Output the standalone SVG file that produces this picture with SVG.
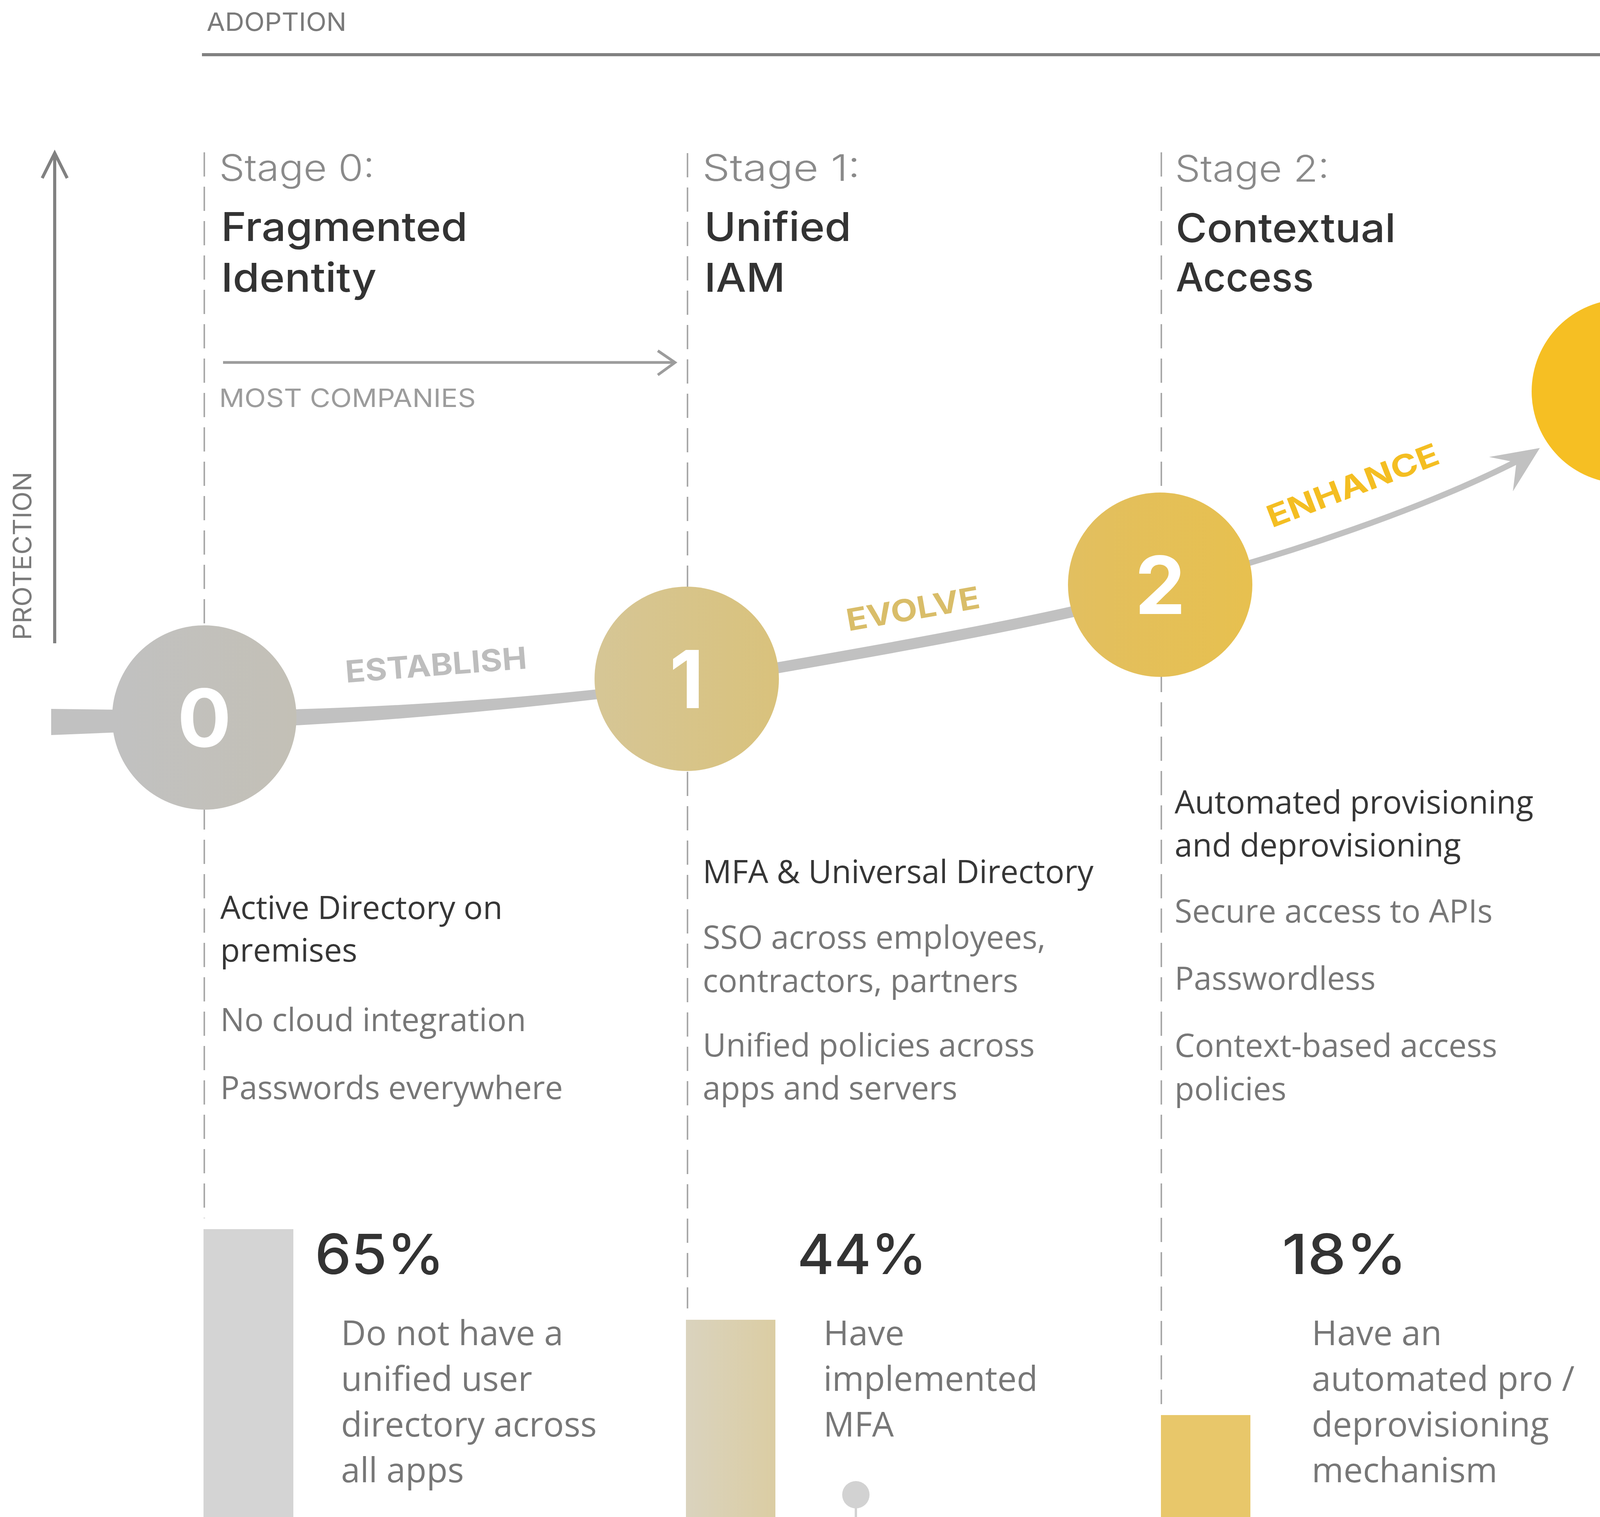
<svg xmlns="http://www.w3.org/2000/svg" width="5294" height="3884" viewBox="0 0 5294 3884">
<defs>
<style>
.axis{stroke:#818181;stroke-width:8;fill:none;stroke-linecap:butt}
.axhead{stroke:#818181;stroke-width:8;fill:none;stroke-linejoin:miter}
.axlbl{font-family:Inter,"Liberation Sans",sans-serif;font-size:64px;fill:#7a7a7a}
.most{font-family:Inter,"Liberation Sans",sans-serif;font-size:64px;fill:#9c9c9c}
.mostarr{stroke:#9c9c9c;stroke-width:7;fill:none}
.dash{stroke:#a9a9a9;stroke-width:4;stroke-dasharray:62 26;fill:none}
.stage{font-family:Inter,"Liberation Sans",sans-serif;font-weight:300;font-size:94px;fill:#8a8a8a}
.title{font-family:Inter,"Liberation Sans",sans-serif;font-weight:500;font-size:102px;fill:#333333}
.num{font-family:Inter,"Liberation Sans",sans-serif;font-weight:700;font-size:205px;fill:#ffffff;text-anchor:middle}
.body{font-family:"Open Sans","Noto Sans","Liberation Sans",sans-serif;font-size:82px;fill:#777777}
.dark{fill:#363636}
.pct{font-family:Inter,"Liberation Sans",sans-serif;font-weight:500;font-size:142px;fill:#333333}
.desc{font-family:"Open Sans","Noto Sans","Liberation Sans",sans-serif;font-size:88px;fill:#777777}
.plbl{font-family:Inter,"Liberation Sans",sans-serif;font-weight:700;font-size:78px}
.curve{fill:none;stroke:#c1c1c1}
</style>
<linearGradient id="g0" x1="0" y1="0" x2="1" y2="0"><stop offset="0" stop-color="#c1c1c1"/><stop offset="1" stop-color="#c3c0b6"/></linearGradient>
<linearGradient id="g1" x1="0" y1="0" x2="1" y2="0"><stop offset="0" stop-color="#d6c696"/><stop offset="1" stop-color="#d9c27c"/></linearGradient>
<linearGradient id="g2" x1="0" y1="0" x2="1" y2="0"><stop offset="0" stop-color="#e2bf60"/><stop offset="1" stop-color="#e7c04f"/></linearGradient>
<linearGradient id="b1" x1="0" y1="0" x2="1" y2="0"><stop offset="0" stop-color="#dad3be"/><stop offset="1" stop-color="#dbcda3"/></linearGradient>
</defs>
<rect x="0" y="0" width="5294" height="3884" fill="#ffffff"/>

<g id="axes">
  <text class="axlbl" x="529" y="79" textLength="358" lengthAdjust="spacingAndGlyphs">ADOPTION</text>
  <line class="axis" x1="517" y1="140" x2="4168" y2="140"/>
  <polyline class="axhead" points="4110,108 4172,140 4110,172"/>
  <line class="axis" x1="140" y1="1647" x2="140" y2="395"/>
  <polyline class="axhead" points="108,456 140,392 172,456"/>
  <text class="axlbl" transform="translate(80,1639) rotate(-90)" x="0" y="0" textLength="431" lengthAdjust="spacingAndGlyphs">PROTECTION</text>
</g>

<g id="connectors">
  <path d="M131,1815 L523,1820 C900,1818 1350,1792 1758,1738 L1758,1762 C1350,1815 900,1858 523,1866 L131,1882 Z" fill="#c1c1c1"/>
  <path class="curve" stroke-width="28" d="M1758,1750 C2100,1690 2600,1610 2970,1512"/>
  <path class="curve" stroke-width="15" d="M2970,1505 C3300,1420 3650,1300 3885,1180"/>
  <path d="M3942,1147 L3812,1170 L3882,1184 L3873,1258 Z" fill="#c1c1c1"/>
  <text class="plbl" fill="#bdbdbd" transform="translate(886,1748) rotate(-4.5)" textLength="466" lengthAdjust="spacingAndGlyphs">ESTABLISH</text>
  <text class="plbl" fill="#d9bd69" transform="translate(2172,1616) rotate(-10)" textLength="345" lengthAdjust="spacingAndGlyphs">EVOLVE</text>
  <text class="plbl" fill="#f4be22" transform="translate(3256,1352) rotate(-21)" textLength="465" lengthAdjust="spacingAndGlyphs">ENHANCE</text>
  <polyline class="mostarr" points="571,928 1722,928"/>
  <polyline class="mostarr" points="1684,898 1728,928 1684,960"/>
  <text class="most" x="561" y="1042" textLength="657" lengthAdjust="spacingAndGlyphs">MOST COMPANIES</text>
</g>

<g id="stage-0">
  <line class="dash" x1="523" y1="390" x2="523" y2="3119"/>
  <text class="stage" x="561" y="463" textLength="398" lengthAdjust="spacingAndGlyphs">Stage 0:</text>
  <text class="title" x="566" y="617" textLength="631" lengthAdjust="spacingAndGlyphs">Fragmented</text>
  <text class="title" x="566" y="747" textLength="398" lengthAdjust="spacingAndGlyphs">Identity</text>
  <circle cx="523" cy="1837" r="236" fill="url(#g0)"/>
  <text class="num" x="523" y="1912">0</text>
  <text class="body dark" x="564" y="2353">Active Directory on</text>
  <text class="body dark" x="564" y="2462">premises</text>
  <text class="body" x="564" y="2640">No cloud integration</text>
  <text class="body" x="564" y="2814">Passwords everywhere</text>
  <rect x="521" y="3147" width="230" height="737" fill="#d4d4d4"/>
  <text class="pct" x="806" y="3262" textLength="332" lengthAdjust="spacingAndGlyphs">65%</text>
  <text class="desc" x="873" y="3444">Do not have a</text>
  <text class="desc" x="873" y="3561">unified user</text>
  <text class="desc" x="873" y="3678">directory across</text>
  <text class="desc" x="873" y="3795">all apps</text>
</g>

<g id="stage-1">
  <line class="dash" x1="1760" y1="392" x2="1760" y2="3350"/>
  <text class="stage" x="1798" y="463" textLength="404" lengthAdjust="spacingAndGlyphs">Stage 1:</text>
  <text class="title" x="1803" y="617" textLength="376" lengthAdjust="spacingAndGlyphs">Unified</text>
  <text class="title" x="1803" y="747" textLength="207" lengthAdjust="spacingAndGlyphs">IAM</text>
  <circle cx="1758" cy="1738" r="236" fill="url(#g1)"/>
  <text class="num" x="1758" y="1813">1</text>
  <text class="body dark" x="1799" y="2261">MFA &amp; Universal Directory</text>
  <text class="body" x="1799" y="2429">SSO across employees,</text>
  <text class="body" x="1799" y="2540">contractors, partners</text>
  <text class="body" x="1799" y="2705">Unified policies across</text>
  <text class="body" x="1799" y="2815">apps and servers</text>
  <rect x="1756" y="3379" width="229" height="505" fill="url(#b1)"/>
  <text class="pct" x="2041" y="3262" textLength="332" lengthAdjust="spacingAndGlyphs">44%</text>
  <text class="desc" x="2108" y="3444">Have</text>
  <text class="desc" x="2108" y="3561">implemented</text>
  <text class="desc" x="2108" y="3678">MFA</text>
  <line x1="2191" y1="3850" x2="2191" y2="3884" stroke="#d2d2d2" stroke-width="6"/>
  <circle cx="2191" cy="3827" r="35" fill="#d2d2d2"/>
</g>

<g id="stage-2">
  <line class="dash" x1="2973" y1="390" x2="2973" y2="3595"/>
  <text class="stage" x="3008" y="465" textLength="395" lengthAdjust="spacingAndGlyphs">Stage 2:</text>
  <text class="title" x="3010" y="620" textLength="563" lengthAdjust="spacingAndGlyphs">Contextual</text>
  <text class="title" x="3010" y="746" textLength="353" lengthAdjust="spacingAndGlyphs">Access</text>
  <circle cx="2970" cy="1497" r="236" fill="url(#g2)"/>
  <text class="num" x="2970" y="1572">2</text>
  <text class="body dark" x="3007" y="2083">Automated provisioning</text>
  <text class="body dark" x="3007" y="2193">and deprovisioning</text>
  <text class="body" x="3007" y="2362">Secure access to APIs</text>
  <text class="body" x="3007" y="2534">Passwordless</text>
  <text class="body" x="3007" y="2706">Context-based access</text>
  <text class="body" x="3007" y="2817">policies</text>
  <rect x="2972" y="3623" width="229" height="261" fill="#e8c76a"/>
  <text class="pct" x="3282" y="3262" textLength="320" lengthAdjust="spacingAndGlyphs">18%</text>
  <text class="desc" x="3358" y="3444">Have an</text>
  <text class="desc" x="3358" y="3561">automated pro /</text>
  <text class="desc" x="3358" y="3678">deprovisioning</text>
  <text class="desc" x="3358" y="3795">mechanism</text>
</g>

<g id="stage-3">
  <line class="dash" x1="4157" y1="390" x2="4157" y2="3731"/>
  <text class="stage" x="4189" y="465" textLength="399" lengthAdjust="spacingAndGlyphs">Stage 3:</text>
  <text class="title" x="4195" y="620" textLength="1034" lengthAdjust="spacingAndGlyphs">Adaptive Workforce</text>
  <circle cx="4157" cy="1002" r="236" fill="#f6bf23"/>
  <text class="num" x="4157" y="1077">3</text>
  <text class="body dark" x="4190" y="1857">Frictionless access</text>
  <text class="body" x="4190" y="2037">Risk-based access policies</text>
  <text class="body" x="4190" y="2213">Continuous and adaptive</text>
  <text class="body" x="4190" y="2323">authentication and</text>
  <text class="body" x="4190" y="2434">authorization</text>
  <rect x="4155" y="3760" width="229" height="124" fill="#f7c125"/>
  <text class="pct" x="4435" y="3262" textLength="229" lengthAdjust="spacingAndGlyphs">8%</text>
  <text class="desc" x="4500" y="3444">Have</text>
  <text class="desc" x="4500" y="3561">implemented a</text>
  <text class="desc" x="4500" y="3678">passwordless</text>
  <text class="desc" x="4500" y="3795">access experience</text>
</g>
</svg>
